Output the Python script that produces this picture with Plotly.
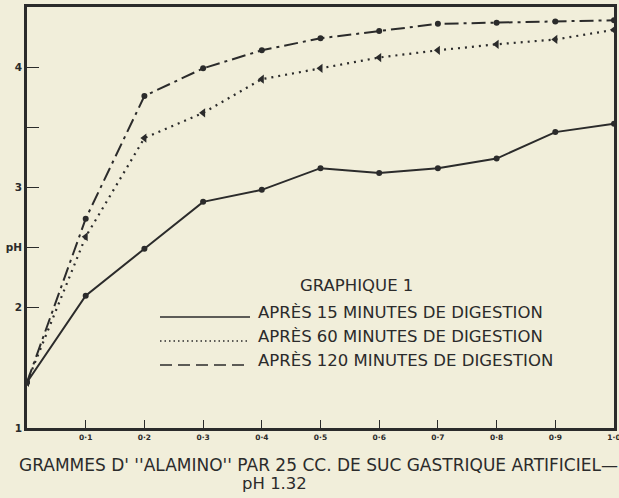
import plotly.graph_objects as go

# ---- data ----
grammes = [0.0, 0.1, 0.2, 0.3, 0.4, 0.5, 0.6, 0.7, 0.8, 0.9, 1.0]
ph_15 = [1.38, 2.10, 2.49, 2.88, 2.98, 3.16, 3.12, 3.16, 3.24, 3.46, 3.53]
ph_60 = [1.38, 2.59, 3.41, 3.62, 3.90, 3.99, 4.08, 4.14, 4.19, 4.23, 4.31]
ph_120 = [1.38, 2.74, 3.76, 3.99, 4.14, 4.24, 4.30, 4.36, 4.37, 4.38, 4.39]

x_tickvals = [0.1, 0.2, 0.3, 0.4, 0.5, 0.6, 0.7, 0.8, 0.9, 1.0]
x_ticktext = ["0·1", "0·2", "0·3", "0·4", "0·5", "0·6", "0·7", "0·8", "0·9", "1·0"]
y_tickvals = [1, 2, 2.5, 3, 3.5, 4]
y_ticktext = ["1", "2", "pH", "3", "", "4"]

legend_labels = [
    "APRÈS 15 MINUTES DE DIGESTION",
    "APRÈS 60 MINUTES DE DIGESTION",
    "APRÈS 120 MINUTES DE DIGESTION",
]
chart_title = "GRAPHIQUE 1"
x_title_1 = "GRAMMES D' ''ALAMINO'' PAR 25 CC. DE SUC GASTRIQUE ARTIFICIEL—"
x_title_2 = "pH 1.32"

# ---- style ----
W, H = 619, 498
ML, MR, MT, MB = 27, 5, 7, 70
INK = "#2b2b2b"
PAPER = "#F1EEDA"
FONT = "DejaVu Sans"

pw = W - ML - MR
ph = H - MT - MB


def px(xp):
    return (xp - ML) / pw


def py(yp):
    return 1 - (yp - MT) / ph


fig = go.Figure()
fig.add_trace(go.Scatter(
    x=grammes, y=ph_15, mode="lines+markers", name=legend_labels[0],
    line=dict(color=INK, width=2),
    marker=dict(color=INK, size=6, symbol="circle"),
))
fig.add_trace(go.Scatter(
    x=grammes, y=ph_60, mode="lines+markers", name=legend_labels[1],
    line=dict(color=INK, width=2.2, dash="2px,5px"),
    marker=dict(color=INK, size=8, symbol="triangle-left"),
))
fig.add_trace(go.Scatter(
    x=grammes, y=ph_120, mode="lines+markers", name=legend_labels[2],
    line=dict(color=INK, width=2, dash="14px,5px,3px,5px"),
    marker=dict(color=INK, size=6, symbol="circle"),
))

# legend drawn by hand (samples + labels)
rows_y = [312, 336, 360]
dashes = ["solid", "1.5px,3px", "12px,6px"]
widths = [1.3, 1.5, 1.3]
shapes = []
annotations = []
for lab, yy, d, w in zip(legend_labels, rows_y, dashes, widths):
    shapes.append(dict(type="line", xref="paper", yref="paper",
                       x0=px(160), x1=px(250), y0=py(yy + 5), y1=py(yy + 5),
                       line=dict(color=INK, width=w, dash=d)))
    annotations.append(dict(text=lab, xref="paper", yref="paper",
                            x=px(256), y=py(yy), xanchor="left", yanchor="middle",
                            showarrow=False,
                            font=dict(family=FONT, size=16.5, color=INK)))
annotations.append(dict(text=chart_title, xref="paper", yref="paper",
                        x=px(298), y=py(285), xanchor="left", yanchor="middle",
                        showarrow=False, font=dict(family=FONT, size=16.5, color=INK)))
annotations.append(dict(text=x_title_1, xref="paper", yref="paper",
                        x=px(318), y=py(465), xanchor="center", yanchor="middle",
                        showarrow=False, font=dict(family=FONT, size=17, color=INK)))
annotations.append(dict(text=x_title_2, xref="paper", yref="paper",
                        x=px(274), y=py(483), xanchor="center", yanchor="middle",
                        showarrow=False, font=dict(family=FONT, size=16.5, color=INK)))

fig.update_layout(
    width=W, height=H,
    margin=dict(l=ML, r=MR, t=MT, b=MB, autoexpand=False),
    paper_bgcolor=PAPER, plot_bgcolor=PAPER,
    showlegend=False,
    shapes=shapes, annotations=annotations,
    font=dict(family=FONT, color=INK),
)
fig.update_xaxes(
    range=[0, 1.0], showgrid=False, zeroline=False, automargin=False,
    showline=True, linecolor=INK, linewidth=2.5, mirror=True,
    ticks="inside", ticklen=8, tickwidth=1.3, tickcolor=INK,
    tickvals=x_tickvals, ticktext=x_ticktext, ticklabeloverflow="allow",
    tickfont=dict(family="DejaVu Sans", size=7.5, color=INK, weight="bold"),
)
fig.update_yaxes(
    range=[1, 4.5], showgrid=False, zeroline=False, automargin=False,
    showline=True, linecolor=INK, linewidth=2.5, mirror=True,
    ticks="inside", ticklen=12, tickwidth=1.3, tickcolor=INK,
    tickvals=y_tickvals, ticktext=y_ticktext, ticklabeloverflow="allow",
    tickfont=dict(family="DejaVu Sans", size=10.5, color=INK, weight="bold"),
)

fig.write_html("out.html", config={"displayModeBar": False},
               post_script="document.body.style.margin='0';document.body.style.padding='0';")
